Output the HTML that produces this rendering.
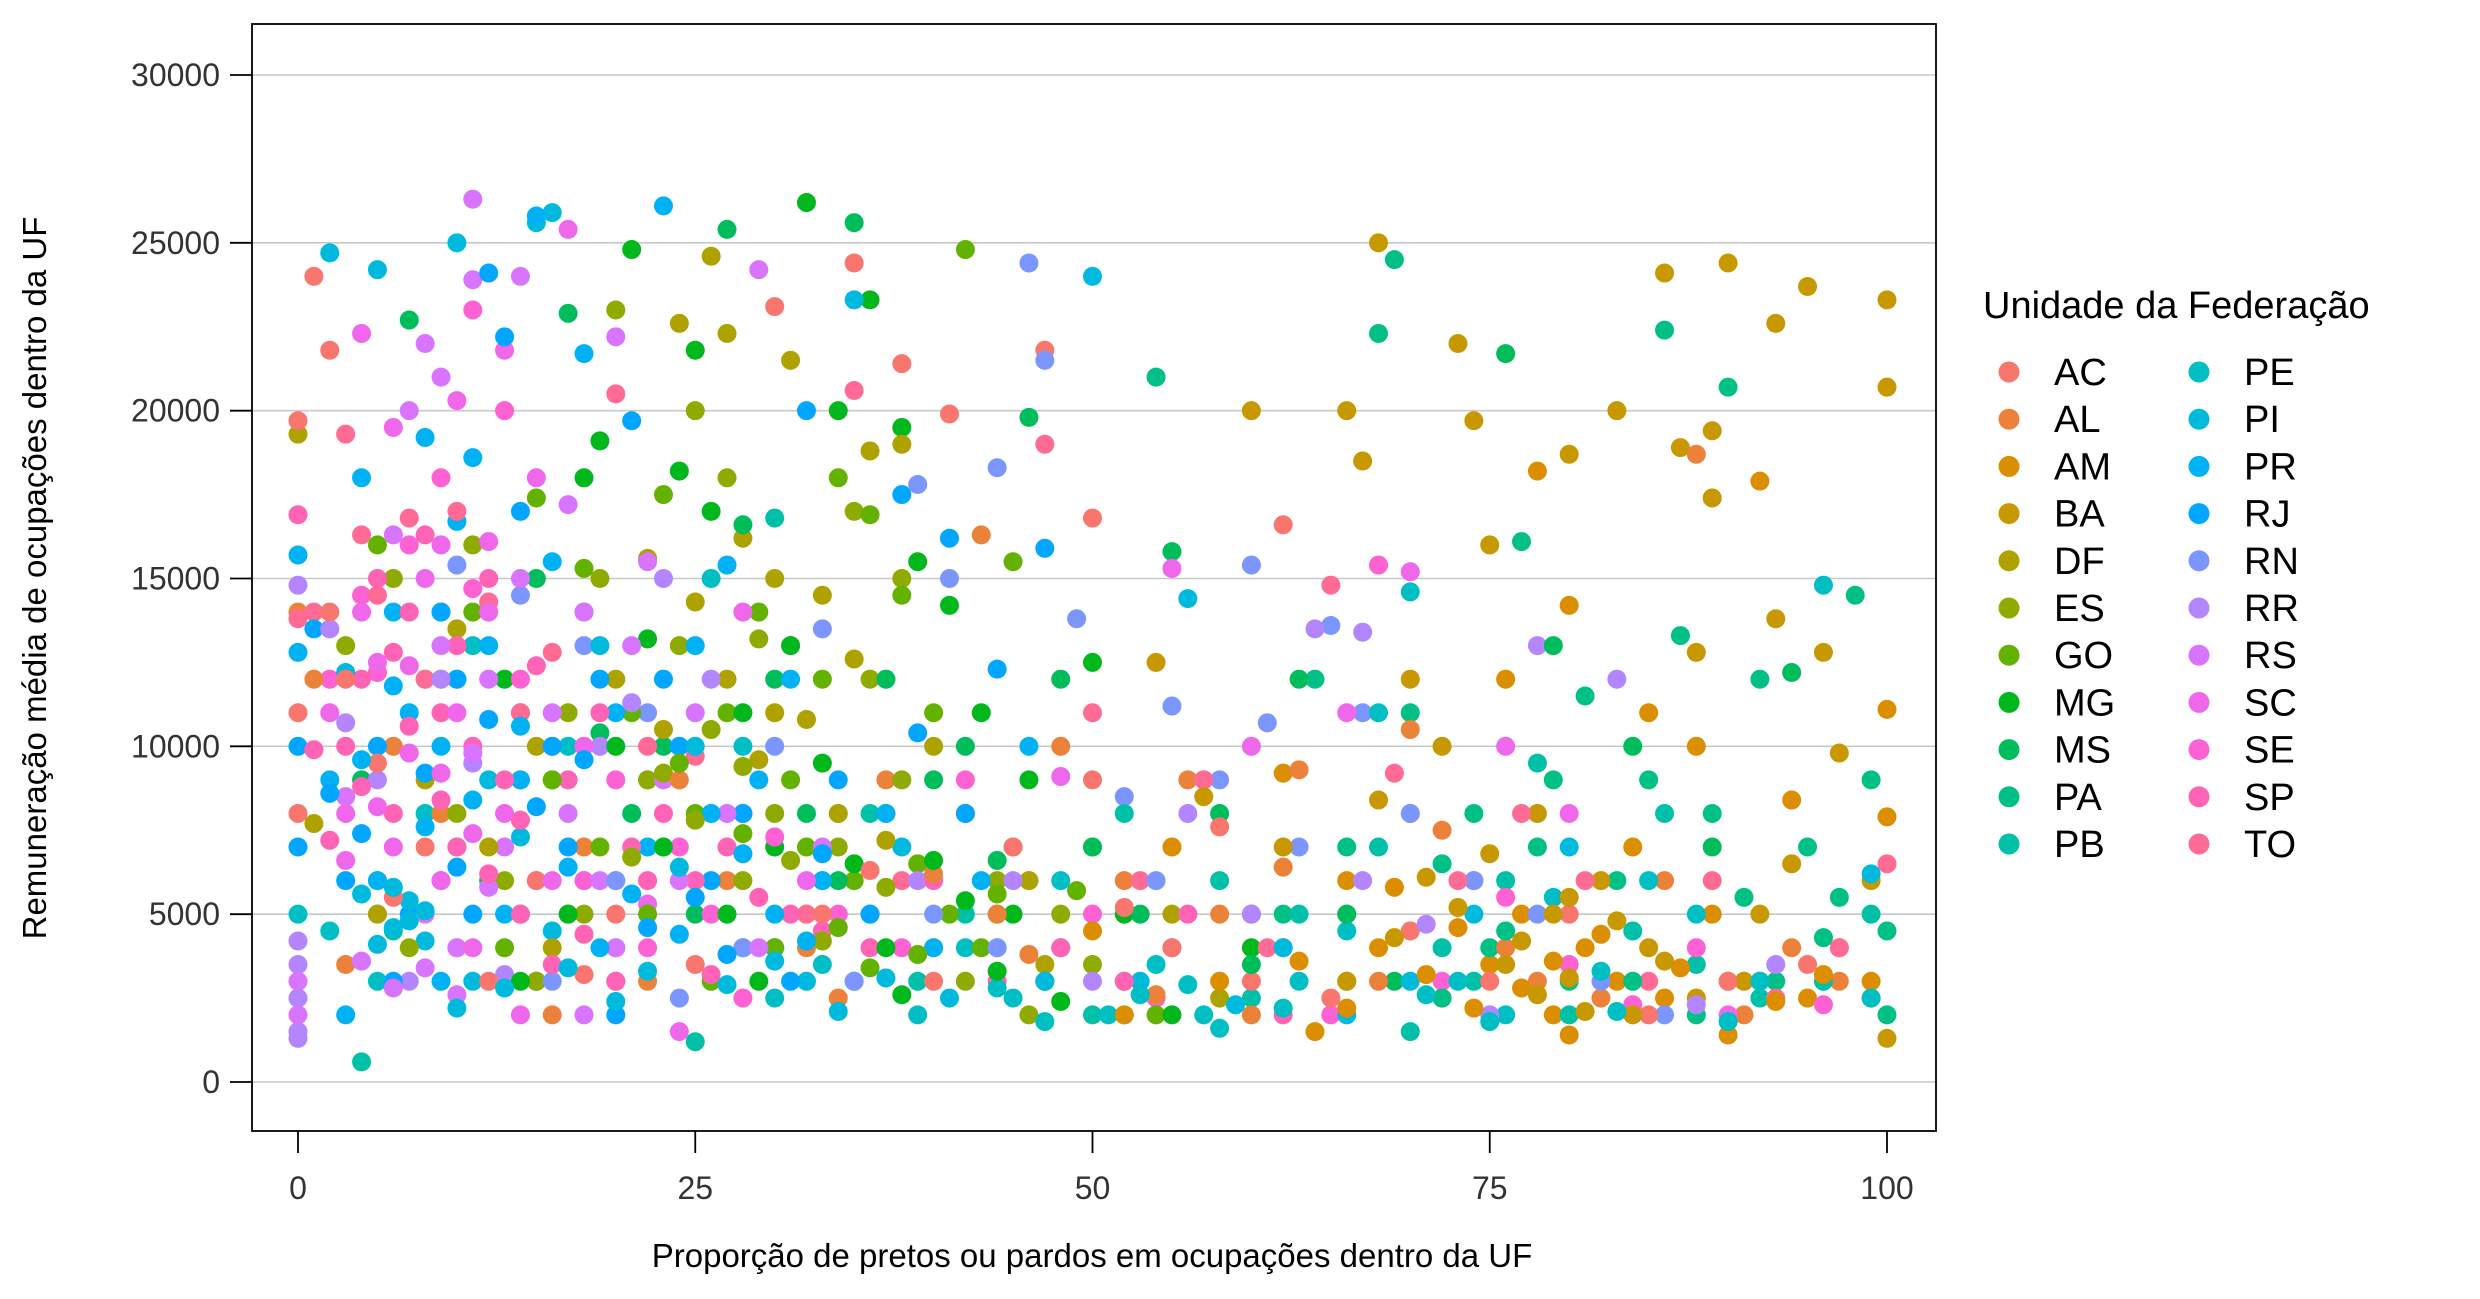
<!DOCTYPE html>
<html><head><meta charset="utf-8">
<style>
html,body{margin:0;padding:0;background:#fff;}
svg{display:block;font-family:"Liberation Sans Narrow","Liberation Sans",sans-serif;}
</style></head>
<body>
<svg id="chart" width="2480" height="1299" viewBox="0 0 2480 1299" xmlns="http://www.w3.org/2000/svg"></svg>
<script>
const xTicks=[0,25,50,75,100];
const yTicks=[0,5000,10000,15000,20000,25000,30000];
// points: [proportion %, remuneration in thousands]
const AC=[[1,24],[2,21.8],[0,19.7],[38,21.4],[47,21.8],[35,24.4],[50,16.8],[62,16.6],[41,19.9],[30,23.1],[3,12],[5,9.5],[8,7],[10,4],[12,3],[15,6],[20,5],[25,3.5],[28,8],[33,5],[40,3],[45,7],[50,9],[55,4],[60,3],[65,2.5],[70,4.5],[75,3],[80,5],[85,2],[90,3],[95,3.5],[0,11],[0,8],[2,14],[6,5.5],[18,3.2],[36,6.3],[52,5.2],[58,7.6]];
const AL=[[0,14],[1,12],[3,3.5],[6,10],[9,8],[14,5],[18,7],[22,3],[27,6],[32,4],[37,9],[43,16.3],[48,10],[52,6],[56,9],[58,5],[63,9.3],[66,5],[70,10.5],[72,7.5],[76,4],[78,3],[82,2.5],[86,6],[88,18.7],[91,2],[94,4],[97,3],[99,2.5],[44,5],[34,2.5],[24,9],[16,2],[60,2],[68,3],[40,6.2],[46,3.8],[54,2.6],[62,6.4]];
const AM=[[62,9.2],[64,1.5],[66,6],[68,4],[70,8],[72,2.5],[74,6],[75,3.5],[77,5],[79,2],[80,14.2],[81,4],[83,3],[84,7],[86,2.5],[88,10],[89,5],[90,3],[92,17.9],[94,8.4],[95,2.5],[97,4],[99,3],[100,7.9],[100,11.1],[60,5],[58,3],[55,7],[52,2],[50,4.5],[76,12],[78,18.2],[85,11],[73,4.6],[69,5.8],[71,3.2],[74,2.2],[77,2.8],[79,3.6],[80,1.4],[82,4.4],[87,3.4],[90,1.4],[93,2.4],[96,3.2],[66,2.2],[63,3.6]];
const BA=[[86,24.1],[90,24.4],[93,22.6],[95,23.7],[100,23.3],[100,20.7],[89,19.4],[87,18.9],[83,20],[73,22],[68,25],[66,20],[60,20],[67,18.5],[75,16],[80,18.7],[89,17.4],[88,12.8],[93,13.8],[96,12.8],[70,12],[72,10],[78,8],[82,6],[85,4],[88,2.5],[91,3],[94,6.5],[97,9.8],[99,6],[76,3.5],[79,5],[84,2],[66,3],[62,7],[57,8.5],[54,12.5],[74,19.7],[80,5.5],[92,5],[73,5.2],[75,6.8],[77,4.2],[78,2.6],[80,3.1],[81,2.1],[71,6.1],[69,4.3],[83,4.8],[86,3.6],[100,1.3],[68,8.4]];
const DF=[[0,19.3],[1,7.7],[10,13.5],[15,10],[18,14],[20,12],[22,15.6],[25,14.3],[27,12],[28,16.2],[30,11],[31,21.5],[33,14.5],[35,12.6],[36,18.8],[38,19],[40,10],[42,8],[44,4],[46,6],[47,3.5],[50,7],[52,2],[55,5],[58,2.5],[26,24.6],[27,22.3],[24,22.6],[30,15],[34,8],[20,6],[16,4],[12,7],[8,9],[5,5],[23,10.5],[29,9.6],[32,10.8],[37,7.2]];
const ES=[[3,13],[6,15],[9,12],[11,16],[14,9],[17,11],[19,15],[20,23],[22,9],[24,13],[26,10.5],[28,6],[30,8],[32,5],[34,7],[36,12],[38,9],[40,4],[42,3],[44,6],[46,2],[48,5],[50,3.5],[35,17],[38,15],[29,13.2],[27,18],[25,20],[23,9.2],[21,6.7],[18,5],[15,3],[13,6],[10,8],[7,4],[25,7.8],[28,9.4],[31,6.6],[33,4.2],[37,5.8]];
const GO=[[5,16],[8,12],[11,14],[15,17.4],[18,15.3],[21,11],[23,17.5],[25,8],[27,11],[29,14],[31,9],[33,12],[35,6],[37,8],[39,6.5],[41,5],[43,4],[45,15.5],[47,3],[49,5.7],[52,3],[54,2],[34,18],[36,16.9],[38,14.5],[40,11],[30,4],[26,3],[22,5],[19,7],[16,9],[13,4],[24,9.5],[32,7],[42,24.8],[28,7.4],[34,4.6],[36,3.4],[39,3.8],[44,5.6]];
const MG=[[13,12],[16,9],[18,18],[19,19.1],[21,24.8],[22,13.2],[24,18.2],[25,21.8],[26,17],[28,11],[30,7],[32,26.2],[34,20],[36,23.3],[38,19.5],[39,15.5],[41,14.2],[43,11],[45,5],[47,3],[50,12.5],[52,5],[55,2],[60,4],[33,9.5],[35,6.5],[37,4],[29,3],[27,5],[23,7],[20,10],[17,5],[14,3],[31,13],[46,9],[40,6.6],[42,5.4],[44,3.3],[48,2.4],[38,2.6]];
const MS=[[4,9],[7,22.7],[10,12],[12,6],[15,15],[17,22.9],[19,10.4],[21,8],[23,10],[25,5],[27,25.4],[28,16.6],[30,12],[32,8],[34,6],[35,25.6],[37,12],[40,9],[42,10],[44,6.6],[46,19.8],[48,12],[50,7],[53,5],[55,15.8],[58,8],[60,3.5],[63,12],[66,5],[69,3],[76,21.7],[79,13],[84,10],[89,7],[94,12.2]];
const PA=[[62,5],[64,12],[66,7],[68,22.3],[69,24.5],[70,11],[72,6.5],[74,8],[75,4],[77,16.1],[78,7],[80,3],[81,11.5],[83,6],[85,9],[86,22.4],[87,13.3],[89,8],[90,20.7],[91,5.5],[93,3],[95,7],[96,4.3],[98,14.5],[99,9],[100,2],[100,4.5],[72,2.5],[76,4.5],[88,2],[92,12],[97,5.5],[84,3],[79,9],[54,21]];
const PB=[[4,0.6],[6,4.5],[10,7],[14,11],[18,6],[22,9],[25,1.2],[28,4],[30,16.8],[33,6],[36,8],[39,3],[42,5],[45,7],[48,4],[50,2],[52,8],[55,4],[58,6],[60,2.5],[63,5],[66,3],[68,7],[70,1.5],[72,4],[74,3],[76,6],[80,2],[84,4.5],[88,3.5],[92,2.5],[96,3],[99,5],[78,9.5],[86,8]];
const PE=[[0,5],[2,4.5],[5,3],[8,8],[11,13],[14,5],[17,10],[20,4],[23,7],[26,15],[28,10],[30,2.5],[33,3.5],[36,5],[39,2],[42,4],[45,2.5],[48,6],[51,2],[54,3.5],[57,2],[60,5],[63,3],[66,4.5],[68,11],[70,14.6],[73,3],[76,2],[79,5.5],[82,3.3],[85,6],[88,5],[92,3],[96,14.8],[99,2.5],[44,2.8],[47,1.8],[53,2.6],[56,2.9],[58,1.6],[62,2.2],[71,2.6],[75,1.8],[83,2.1],[90,1.8]];
const PI=[[2,24.7],[5,24.2],[10,25],[15,25.6],[16,25.9],[3,12.2],[5,5],[6,4.6],[7,5.4],[8,4.2],[9,6],[11,3],[12,9],[14,7.3],[16,4.5],[19,13],[22,3.3],[25,10],[28,4],[32,3],[35,23.3],[38,7],[41,2.5],[44,5],[47,3],[50,24],[53,3],[56,14.4],[59,2.3],[62,4],[66,2],[70,3],[74,5],[80,7],[99,6.2],[4,5.6],[5,4.1],[6,5.8],[7,4.8],[8,5.1],[10,2.2],[13,2.8],[17,3.4],[20,2.4],[24,6.4],[27,2.9],[30,3.6],[34,2.1],[37,3.1]];
const PR=[[0,15.7],[0,12.8],[2,9],[4,18],[6,14],[8,19.2],[9,10],[10,16.7],[11,18.6],[12,13],[14,9],[15,25.8],[16,15.5],[18,21.7],[20,11],[22,7],[23,26.1],[25,13],[27,15.4],[29,9],[31,12],[33,6],[35,3],[37,8],[40,4],[43,6],[46,10],[9,3],[5,6],[3,2],[7,11],[13,5],[19,4],[26,8],[30,5],[4,9.6],[6,11.8],[8,7.6],[11,8.4],[14,10.6],[17,6.4],[21,5.6],[24,4.4],[28,6.8],[32,4.2]];
const RJ=[[0,10],[0,7],[1,13.5],[3,6],[5,10],[7,5],[9,14],[10,12],[12,24.1],[13,22.2],[14,17],[16,10],[17,7],[19,12],[21,19.7],[23,12],[24,10],[26,6],[28,8],[30,4],[32,20],[34,9],[36,5],[38,17.5],[41,16.2],[44,12.3],[47,15.9],[39,10.4],[6,3],[11,5],[15,3],[20,2],[25,5.5],[31,3],[42,8],[2,8.6],[4,7.4],[8,9.2],[10,6.4],[12,10.8],[15,8.2],[18,9.6],[22,4.6],[27,3.8],[33,6.8]];
const RN=[[10,15.4],[14,14.5],[18,13],[22,11],[26,8],[30,10],[33,13.5],[37,12],[39,17.8],[41,15],[44,18.3],[46,24.4],[47,21.5],[49,13.8],[52,8.5],[55,11.2],[58,9],[60,15.4],[61,10.7],[63,7],[65,13.6],[67,11],[70,8],[74,6],[78,5],[82,3],[86,2],[40,5],[35,3],[28,4],[20,6],[16,3],[54,6],[44,4],[24,2.5]];
const RR=[[0,1.5],[0,2.5],[0,3.5],[0,4.2],[0,1.3],[0,14.8],[2,13.5],[3,10.7],[5,9],[7,3],[9,12],[11,9.5],[13,3.2],[15,6],[17,5],[19,10],[21,11.3],[23,15],[26,12],[30,4],[34,8],[39,6],[45,6],[50,3],[56,8],[60,5],[64,13.5],[67,13.4],[71,4.7],[78,13],[83,12],[93,3.5],[88,2.3],[75,2],[67,6]];
const RS=[[11,26.3],[9,21],[8,22],[11,23.9],[14,24],[17,17.2],[20,22.2],[18,14],[3,8.5],[5,6],[6,16.3],[7,20],[8,5],[9,13],[10,4],[11,9.8],[12,12],[13,7],[14,15],[15,3],[16,11],[17,8],[18,2],[19,6],[20,4],[21,13],[22,15.5],[23,9],[24,6],[25,11],[27,8],[29,4],[31,13],[33,7],[29,24.2],[4,3.6],[6,2.8],[8,3.4],[10,2.6],[12,5.8],[0,3.0],[0,2.0]];
const SC=[[4,22.3],[6,19.5],[9,16],[10,20.3],[12,16.1],[13,21.8],[15,18],[17,25.4],[2,11],[3,8],[4,14],[5,12.5],[6,7],[7,9.8],[8,15],[9,6],[10,11],[11,4],[12,14],[13,8],[14,2],[16,6],[18,10],[20,3],[22,5.3],[24,1.5],[28,14],[32,6],[48,9.1],[55,15.3],[60,10],[66,11],[70,15.2],[76,10],[80,8],[90,2],[3,6.6],[5,8.2],[7,12.4],[9,9.2],[11,7.4]];
const SE=[[2,12],[4,14.5],[5,12.2],[7,16],[9,14],[11,14.7],[14,12],[16,10],[18,6],[20,9],[22,4],[24,7],[26,5],[28,2.5],[30,7.3],[34,5],[38,4],[42,9],[46,6],[50,5],[54,2.5],[57,9],[62,4],[65,2],[68,15.4],[72,3],[76,5.5],[80,3.5],[84,2.3],[88,4],[92,3],[96,2.3],[11,23],[9,18],[13,20]];
const SP=[[0,16.9],[1,9.9],[3,10],[4,12],[5,15],[6,8],[7,14],[8,16.3],[9,11],[10,13],[11,10],[12,15],[13,9],[15,12.4],[17,9],[19,11],[21,7],[23,8],[25,6],[27,7],[29,5.5],[31,5],[33,4.5],[36,4],[40,6],[44,3],[48,4],[52,3],[56,5],[62,2],[10,7],[14,5],[16,3.5],[6,12.8],[20,3],[2,7.2],[4,8.8],[7,10.6],[9,8.4],[12,6.2],[14,7.8],[18,4.4],[22,6.0],[26,3.2]];
const TO=[[0,13.8],[1,14],[3,19.3],[4,16.3],[5,14.5],[7,16.8],[8,12],[10,17],[12,14.3],[14,11],[16,12.8],[18,10],[20,20.5],[22,10],[25,9.7],[28,8],[32,5],[35,20.6],[38,6],[42,8],[47,19],[50,11],[53,6],[57,9],[61,4],[65,14.8],[69,9.2],[73,6],[77,8],[81,6],[85,3],[89,6],[93,2.5],[97,4],[100,6.5]];

const seriesByState={AC,AL,AM,BA,DF,ES,GO,MG,MS,PA,PB,PE,PI,PR,RJ,RN,RR,RS,SC,SE,SP,TO};
const legendStates=["AC","AL","AM","BA","DF","ES","GO","MG","MS","PA","PB","PE","PI","PR","RJ","RN","RR","RS","SC","SE","SP","TO"];

// layout
const PL=252,PR_=1936,PT=24,PB_=1131;
const X0=298,X100=1887,Y0=1082,Y30=75;
function xs(v){return X0+(X100-X0)*v/100;}
function ys(v){return Y0+(Y30-Y0)*v/30000;}

function hcl(h){
  const L=65,C=100,hr=h*Math.PI/180;
  const u=C*Math.cos(hr),v=C*Math.sin(hr);
  const Xn=95.047,Yn=100,Zn=108.883;
  const un=4*Xn/(Xn+15*Yn+3*Zn),vn=9*Yn/(Xn+15*Yn+3*Zn);
  const Y=Yn*Math.pow((L+16)/116,3);
  const up=u/(13*L)+un,vp=v/(13*L)+vn;
  const X=Y*9*up/(4*vp),Z=Y*(12-3*up-20*vp)/(4*vp);
  const x=X/100,y=Y/100,z=Z/100;
  let r=3.2404542*x-1.5371385*y-0.4985314*z;
  let g=-0.9692660*x+1.8760108*y+0.0415560*z;
  let b=0.0556434*x-0.2040259*y+1.0572252*z;
  const gm=c=>{c=c<=0.0031308?12.92*c:1.055*Math.pow(c,1/2.4)-0.055;return Math.round(Math.max(0,Math.min(1,c))*255);};
  return `rgb(${gm(r)},${gm(g)},${gm(b)})`;
}
const n=legendStates.length;
const colors={};
legendStates.forEach((s,i)=>{colors[s]=hcl(15+i*360/n);});

const NS="http://www.w3.org/2000/svg";
const svg=document.getElementById('chart');
function mk(tag,attrs,parent){const e=document.createElementNS(NS,tag);for(const k in attrs)e.setAttribute(k,attrs[k]);(parent||svg).appendChild(e);return e;}

const grid=mk('g',{});


yTicks.forEach(t=>{
  const l=mk('line',{x1:PL,x2:PR_,y1:ys(t),y2:ys(t),stroke:'#c8c8c8','stroke-width':1.6},grid);
  
  
});

const pts=mk('g',{});


const maxLen=Math.max(...legendStates.map(s=>seriesByState[s].length));
for(let i=0;i<maxLen;i++){
  legendStates.forEach(s=>{
    const d=seriesByState[s][i];
    if(!d)return;
    const c=mk('circle',{cx:xs(d[0]),cy:ys(d[1]*1000),r:9.5,fill:colors[s]},pts);
    
    
  });
}

const border=mk('rect',{x:PL,y:PT,width:PR_-PL,height:PB_-PT,fill:'none',stroke:'#000','stroke-width':1.8});



const yax=mk('g',{});


yTicks.forEach(t=>{
  const tk=mk('line',{x1:230,x2:PL,y1:ys(t),y2:ys(t),stroke:'#000','stroke-width':1.8},yax);
  
  
  const tx=mk('text',{x:220,y:ys(t)+11,'text-anchor':'end','font-size':32,fill:'#333'},yax);
  tx.textContent=t;
  
  
});
const xax=mk('g',{});


xTicks.forEach(t=>{
  const tk=mk('line',{x1:xs(t),x2:xs(t),y1:PB_,y2:1153,stroke:'#000','stroke-width':1.8},xax);
  
  
  const tx=mk('text',{x:xs(t),y:1199,'text-anchor':'middle','font-size':32,fill:'#333'},xax);
  tx.textContent=t;
  
  
});
const xt=mk('text',{x:1092,y:1267,'text-anchor':'middle','font-size':33,fill:'#000'});
xt.textContent='Proporção de pretos ou pardos em ocupações dentro da UF';


const yt=mk('text',{x:0,y:0,'text-anchor':'middle','font-size':33,fill:'#000',transform:'translate(46,578) rotate(-90)'});
yt.textContent='Remuneração média de ocupações dentro da UF';



const lg=mk('g',{});


const lt=mk('text',{x:1983,y:318,'font-size':38,fill:'#000'},lg);
lt.textContent='Unidade da Federação';


legendStates.forEach((s,i)=>{
  const col=i<11?0:1,row=i%11;
  const cy=372+row*47.2;
  const dx=col===0?2009:2199;
  const g=mk('g',{},lg);
  
  
  mk('circle',{cx:dx,cy:cy,r:10.5,fill:colors[s]},g);
  const t=mk('text',{x:dx+45,y:cy+13,'font-size':38,fill:'#000'},g);
  t.textContent=s;
});
</script>
</body></html>
